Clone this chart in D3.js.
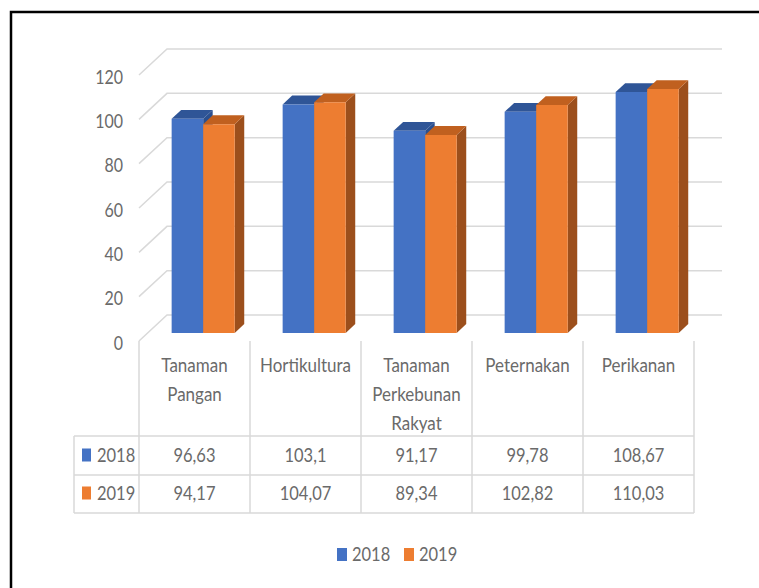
<!DOCTYPE html>
<html>
<head>
<meta charset="utf-8">
<script src="https://cdn.jsdelivr.net/npm/d3@7"></script>
<style>
  html, body { margin: 0; padding: 0; background: #fff; }
  svg { display: block; }
  text { font-family: Lato, "Open Sans", sans-serif; fill: #6a6a6a; }
</style>
</head>
<body>
<div id="chart"></div>
<script>
  var categories = ['Tanaman Pangan', 'Hortikultura', 'Tanaman Perkebunan Rakyat', 'Peternakan', 'Perikanan'];
  var series = ['2018', '2019'];
  var values2018 = [96.63, 103.1, 91.17, 99.78, 108.67];
  var values2019 = [94.17, 104.07, 89.34, 102.82, 110.03];
  var yTicks = [0, 20, 40, 60, 80, 100, 120];

  var width = 759, height = 588;

  var colors = {
    '2018': { front: '#4472c4', top: '#2f5597', side: '#2a4f8f' },
    '2019': { front: '#ed7d31', top: '#c0601f', side: '#9c4f1c' }
  };
  var valuesBySeries = { '2018': values2018, '2019': values2019 };

  var svg = d3.select('#chart').append('svg')
    .attr('width', width)
    .attr('height', height);

  // front plane scales, depth is an oblique offset
  var x = d3.scaleBand().domain(categories).range([139, 694]);
  var xs = d3.scaleBand().domain(series).range([0, x.bandwidth()]).paddingOuter(0.76);
  var y = d3.scaleLinear().domain([0, 120]).range([341, 75]);

  var DX = 28, DY = 26;
  function proj(px, v, f) {
    return [px + DX * f, y(v) - DY * f];
  }

  // stretched text helper, the reference text is tall and narrow
  function label(g, tx, ty, str, anchor, size) {
    return g.append('text')
      .attr('transform', 'translate(' + tx + ',' + ty + ') scale(1,1.18)')
      .attr('text-anchor', anchor || 'middle')
      .attr('dy', '0.35em')
      .style('font-size', (size || 16.5) + 'px')
      .text(str);
  }

  var grid = svg.append('g').attr('class', 'grid');
  var x0 = x.range()[0], x1 = x.range()[1];

  yTicks.forEach(function(t) {
    var a = proj(x0, t, 0), b = proj(x0, t, 1), c = proj(x1, t, 1);
    grid.append('path')
      .attr('d', 'M' + a + 'L' + b + 'L' + c)
      .attr('fill', 'none')
      .attr('stroke', '#d9d9d9')
      .attr('stroke-width', 1.5);
  });

  var axis = svg.append('g').attr('class', 'y-axis');
  yTicks.forEach(function(t) {
    label(axis, 123, y(t) + 2, t, 'end', 16);
  });

  // bars, blue first so the orange front hides its side
  var bars = svg.append('g').attr('class', 'bars');
  var fFront = 0.31, fBack = 0.65;

  categories.forEach(function(cat, i) {
    series.forEach(function(s) {
      var v = valuesBySeries[s][i];
      var left = x(cat) + xs(s), right = left + xs.bandwidth();
      var col = colors[s];

      var fl0 = proj(left, 0, fFront), fr0 = proj(right, 0, fFront);
      var flv = proj(left, v, fFront), frv = proj(right, v, fFront);
      var blv = proj(left, v, fBack), brv = proj(right, v, fBack), br0 = proj(right, 0, fBack);

      bars.append('path')
        .attr('d', 'M' + fr0 + 'L' + br0 + 'L' + brv + 'L' + frv + 'Z')
        .attr('fill', col.side);

      bars.append('path')
        .attr('d', 'M' + flv + 'L' + frv + 'L' + brv + 'L' + blv + 'Z')
        .attr('fill', col.top);

      bars.append('path')
        .attr('d', 'M' + fl0 + 'L' + fr0 + 'L' + frv + 'L' + flv + 'Z')
        .attr('fill', col.front);
    });
  });

  // data table under the plot
  var table = svg.append('g').attr('class', 'table');
  var tTop = 341, rowTop = 436, rowMid = 475, rowBot = 513, keyLeft = 74;
  var lineColor = '#d9d9d9';

  function hline(yy, xa, xb) {
    table.append('line')
      .attr('x1', xa).attr('x2', xb).attr('y1', yy).attr('y2', yy)
      .attr('stroke', lineColor).attr('stroke-width', 1.5);
  }
  function vline(xx, ya, yb) {
    table.append('line')
      .attr('x1', xx).attr('x2', xx).attr('y1', ya).attr('y2', yb)
      .attr('stroke', lineColor).attr('stroke-width', 1.5);
  }

  hline(rowTop, keyLeft, x1);
  hline(rowMid, keyLeft, x1);
  hline(rowBot, keyLeft, x1);
  vline(keyLeft, rowTop, rowBot);
  categories.forEach(function(cat) { vline(x(cat), tTop, rowBot); });
  vline(x1, tTop, rowBot);

  categories.forEach(function(cat) {
    var cx = x(cat) + x.bandwidth() / 2;
    cat.split(' ').forEach(function(word, j) {
      label(table, cx, 365 + j * 29, word, 'middle', 17);
    });
  });

  var rowCenters = [455, 493];
  series.forEach(function(s, k) {
    var cy = rowCenters[k];
    table.append('rect')
      .attr('x', 82).attr('y', cy - 6.5)
      .attr('width', 9).attr('height', 13)
      .attr('fill', colors[s].front);
    label(table, 97, cy, s, 'start', 16.5);
    valuesBySeries[s].forEach(function(v, i) {
      label(table, x(categories[i]) + x.bandwidth() / 2, cy, String(v).replace('.', ','), 'middle', 16.5);
    });
  });

  // legend
  var legend = svg.append('g').attr('class', 'legend');
  var legendX = [337, 404];
  series.forEach(function(s, k) {
    legend.append('rect')
      .attr('x', legendX[k]).attr('y', 548)
      .attr('width', 10).attr('height', 13)
      .attr('fill', colors[s].front);
    label(legend, legendX[k] + 15, 554, s, 'start', 16.5);
  });

  // frame of the original screenshot, runs off the right and bottom
  svg.append('rect')
    .attr('x', 11).attr('y', 12)
    .attr('width', 800).attr('height', 640)
    .attr('fill', 'none')
    .attr('stroke', '#000')
    .attr('stroke-width', 2.5);
</script>
</body>
</html>
